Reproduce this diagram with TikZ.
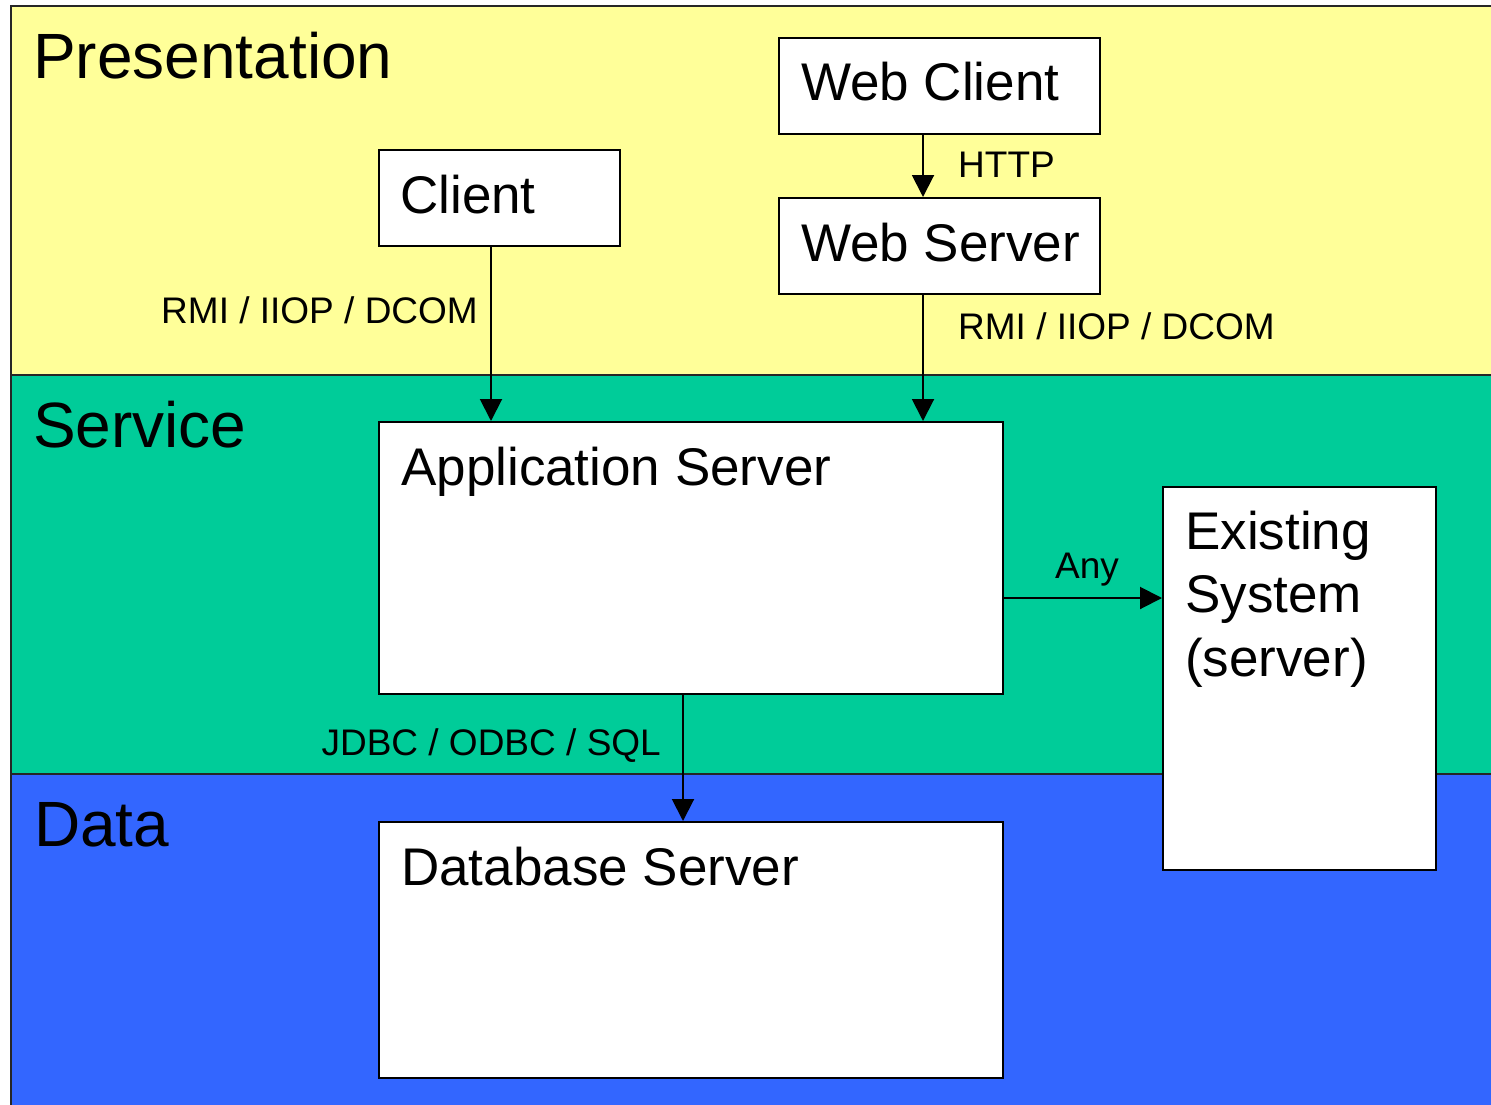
\documentclass[tikz,border=0pt]{standalone}
\usepackage{fontspec}
\setmainfont{Liberation Sans}
\usetikzlibrary{arrows.meta}
\definecolor{presY}{HTML}{FFFF99}
\definecolor{servG}{HTML}{00CC99}
\definecolor{dataB}{HTML}{3366FF}
\tikzset{
  layer/.style={draw=black!85, line width=2pt},
  box/.style={draw=black, fill=white, line width=2pt, inner sep=0pt, anchor=north west},
  layertext/.style={anchor=base west, inner sep=0pt, font=\fontsize{64}{76}\selectfont},
  boxtext/.style={anchor=base west, inner sep=0pt, font=\fontsize{53}{64}\selectfont},
  lbl/.style={inner sep=0pt, font=\fontsize{37}{44}\selectfont},
  conn/.style={line width=2pt, -{Triangle[length=22pt,width=22pt]}}
}
\begin{document}
\begin{tikzpicture}[x=1pt,y=-1pt]
\useasboundingbox (0,0) rectangle (1491,1105);
% layers
\fill[presY] (11,6) rectangle (1491,375);
\fill[servG] (11,375) rectangle (1491,774);
\fill[dataB] (11,774) rectangle (1491,1105);
\draw[layer] (1491,6) -- (11,6) -- (11,1105);
\draw[layer] (11,375) -- (1491,375);
\draw[layer] (11,774) -- (1491,774);
\node[layertext] (tpres) at (33,79) {Presentation};
\node[layertext] (tserv) at (33,447) {Service};
\node[layertext] (tdata) at (34,846) {Data};
% boxes
\node[box, minimum width=321pt, minimum height=96pt] (webclient) at (778,37) {};
\node[box, minimum width=321pt, minimum height=96pt] (webserver) at (778,197) {};
\node[box, minimum width=241pt, minimum height=96pt] (client) at (378,149) {};
\node[box, minimum width=624pt, minimum height=272pt] (app) at (378,421) {};
\node[box, minimum width=273pt, minimum height=383pt] (exist) at (1162,486) {};
\node[box, minimum width=624pt, minimum height=256pt] (db) at (378,821) {};
\node[boxtext] (twc) at (801,101) {Web Client};
\node[boxtext] (tws) at (801,261) {Web Server};
\node[boxtext] (tcl) at (400,213) {Client};
\node[boxtext] (tapp) at (401,485) {Application Server};
\node[boxtext] (tex1) at (1185,549) {Existing};
\node[boxtext] (tex2) at (1185,612) {System};
\node[boxtext] (tex3) at (1185,676) {(server)};
\node[boxtext] (tdb) at (401,885) {Database Server};
% connectors
\draw[conn] (webclient.south -| 923,0) -- (webserver.north -| 923,0);
\draw[conn] (webserver.south -| 923,0) -- (app.north -| 923,0);
\draw[conn] (client.south -| 491,0) -- (app.north -| 491,0);
\draw[conn] (app.east |- 0,598) -- (exist.west |- 0,598);
\draw[conn] (app.south -| 683,0) -- (db.north -| 683,0);
% labels
\node[lbl, anchor=base west] (lhttp) at (958,178) {HTTP};
\node[lbl, anchor=base east] (lrmi1) at (478,323) {RMI / IIOP / DCOM};
\node[lbl, anchor=base west] (lrmi2) at (958,339) {RMI / IIOP / DCOM};
\node[lbl, anchor=base] (lany) at (1087,578) {Any};
\node[lbl, anchor=base east] (ljdbc) at (661,755) {JDBC / ODBC / SQL};
\end{tikzpicture}
\end{document}
